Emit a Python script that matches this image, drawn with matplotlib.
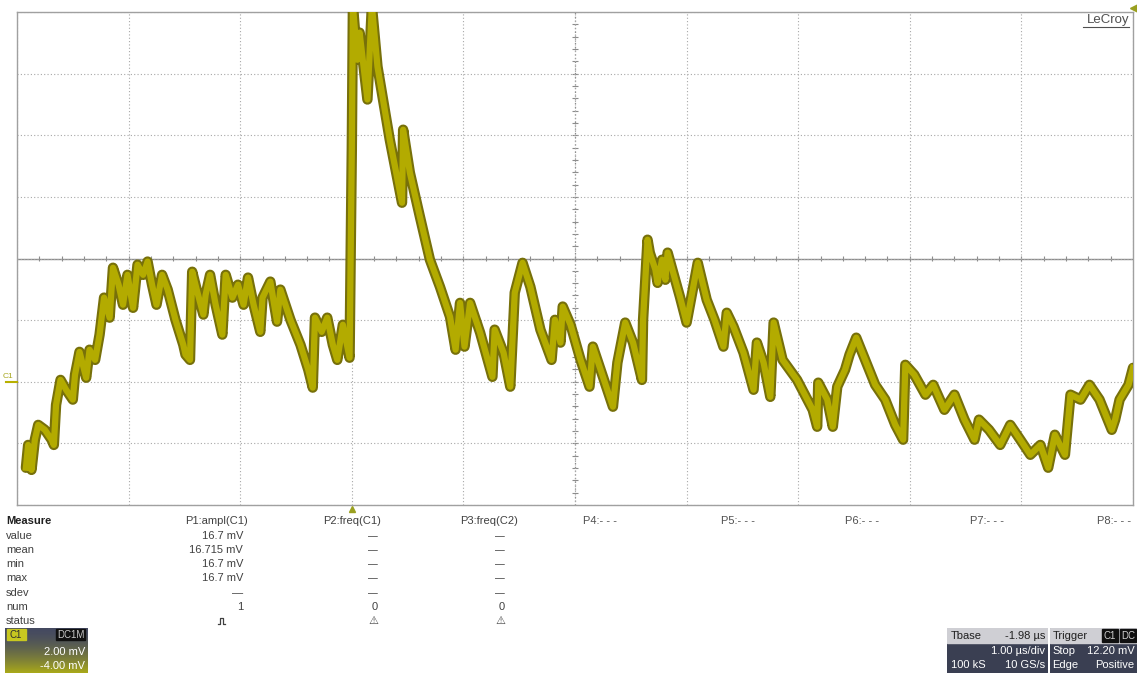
import numpy as np
import matplotlib
matplotlib.use("Agg")
import matplotlib.pyplot as plt
from matplotlib.patches import Rectangle

W, H = 1137, 674

# captured waveform C1 (time in us relative to trigger, level in mV)
t_us = [-2.94, -2.92, -2.89, -2.86, -2.83, -2.77, -2.71, -2.69, -2.67, -2.63,
        -2.58, -2.52, -2.50, -2.46, -2.40, -2.37, -2.32, -2.28, -2.24, -2.19,
        -2.16, -2.11, -2.07, -2.03, -1.98, -1.94, -1.89, -1.85, -1.81, -1.77,
        -1.72, -1.67, -1.60, -1.53, -1.51,
        -1.47, -1.45, -1.41, -1.35, -1.33, -1.29, -1.24, -1.18, -1.15, -1.09,
        -1.04, -0.99, -0.95, -0.90, -0.84, -0.82, -0.75, -0.69, -0.66, -0.57,
        -0.48, -0.41, -0.37, -0.35, -0.29, -0.24, -0.19, -0.15, -0.10, -0.04,
        -0.02, -0.01, 0.03, 0.05, 0.12, 0.16, 0.21, 0.26, 0.32, 0.43,
        0.44, 0.50, 0.59, 0.68, 0.77, 0.86, 0.91, 0.95, 0.99, 1.04,
        1.13, 1.24, 1.26, 1.34, 1.40, 1.44, 1.51, 1.58, 1.67, 1.77,
        1.80, 1.85, 1.87, 1.94, 2.03, 2.11, 2.14, 2.20, 2.29, 2.32,
        2.36, 2.43, 2.50, 2.58, 2.59, 2.63, 2.65, 2.70, 2.72, 2.76,
        2.79, 2.81, 2.86, 2.92, 2.98, 3.04, 3.08, 3.16, 3.23, 3.31,
        3.34, 3.40, 3.49, 3.58, 3.61, 3.67, 3.73, 3.76, 3.84, 3.97,
        4.11, 4.15, 4.16, 4.24, 4.29, 4.33, 4.40, 4.44, 4.50, 4.58,
        4.67, 4.76, 4.85, 4.92, 4.94, 5.02, 5.12, 5.19, 5.29, 5.38,
        5.47, 5.56, 5.60, 5.69, 5.79, 5.88, 5.97, 6.06, 6.15, 6.22,
        6.28, 6.37, 6.42, 6.51, 6.59, 6.68, 6.79, 6.82, 6.86, 6.94, 6.98]
v_mv = [-2.79, -2.05, -2.86, -1.88, -1.40, -1.56, -1.88, -2.05, -0.75, 0.06,
        -0.26, -0.58, 0.23, 0.97, 0.13, 1.04, 0.71, 1.53, 2.73, 2.08,
        3.70, 3.15, 2.50, 3.47, 2.40, 3.80, 3.47, 3.90, 3.15, 2.50,
        3.47, 2.99, 2.01, 1.20, 0.88,
        0.71, 3.57, 2.99, 2.18, 2.82, 3.47, 2.50, 1.53, 3.47, 2.73,
        3.15, 2.50, 3.38, 2.50, 1.62, 2.73, 3.25, 1.95, 2.99, 2.01,
        1.20, 0.39, -0.19, 2.08, 1.62, 2.08, 1.20, 0.71, 1.85, 0.78,
        7.53, 12.20, 10.45, 11.33, 9.16, 12.20, 10.23, 9.16, 7.86, 5.81,
        8.18, 6.79, 5.36, 3.96, 3.08, 2.11, 1.04, 2.56, 1.14, 2.56,
        1.59, 0.16, 1.69, 0.94, -0.16, 2.89, 3.86, 3.08, 1.69, 0.71,
        2.01, 1.27, 2.44, 1.85, 0.71, -0.16, 1.14, 0.49, -0.49, -0.81,
        0.62, 1.92, 1.27, 0.06, 2.01, 4.61, 4.19, 3.64, 3.21, 3.96,
        3.31, 4.19, 3.54, 2.76, 1.92, 3.08, 3.86, 2.66, 2.01, 1.14,
        2.24, 1.79, 0.94, -0.26, 1.27, 0.62, -0.49, 1.92, 0.71, 0.06,
        -0.91, -1.46, -0.03, -0.58, -1.46, -0.16, 0.39, 0.88, 1.43, 0.71,
        -0.10, -0.58, -1.40, -1.88, 0.55, 0.23, -0.42, -0.10, -0.91, -0.42,
        -1.23, -1.88, -1.23, -1.56, -2.05, -1.40, -1.88, -2.37, -2.05, -2.79,
        -1.72, -2.37, -0.42, -0.58, -0.10, -0.58, -1.56, -1.23, -0.58, -0.10, 0.45]

# scope settings
volts_per_div = 2.00
offset_mv = -4.00
time_per_div = 1.00
tbase_us = -1.98

rows = ["Measure", "value", "mean", "min", "max", "sdev", "num", "status"]
p1 = ["P1:ampl(C1)", "16.7 mV", "16.715 mV", "16.7 mV", "16.7 mV", "—", "1", None]
p2 = ["P2:freq(C1)", "—", "—", "—", "—", "—", "0", "⚠"]
p3 = ["P3:freq(C2)", "—", "—", "—", "—", "—", "0", "⚠"]
p_rest = ["P4:- - -", "P5:- - -", "P6:- - -", "P7:- - -", "P8:- - -"]

plt.rcParams["font.family"] = ["Liberation Sans", "DejaVu Sans"]

fig = plt.figure(figsize=(W / 100, H / 100), dpi=100)
fig.patch.set_facecolor("white")


def fx(x):
    return x / W


def fy(y):
    return 1 - y / H


ax = fig.add_axes([fx(17), fy(505), 1116 / W, 493 / H])
t0 = -5 * time_per_div - tbase_us
v0 = -4 * volts_per_div - offset_mv
ax.set_xlim(t0, t0 + 10 * time_per_div)
ax.set_ylim(v0, v0 + 8 * volts_per_div)
ax.set_xticks(t0 + np.arange(11) * time_per_div)
ax.set_yticks(v0 + np.arange(9) * volts_per_div)
ax.tick_params(length=0, labelbottom=False, labelleft=False)
ax.grid(True, color="#a8a8a8", linestyle=(0, (1, 2)), linewidth=0.8)
for s in ax.spines.values():
    s.set_color("#a0a0a0")
    s.set_linewidth(1.0)

# centre graticule with minor ticks
tc = t0 + 5 * time_per_div
vc = v0 + 4 * volts_per_div
ax.axhline(vc, color="#8c8c8c", lw=1.0, zorder=1)
ax.axvline(tc, color="#8c8c8c", lw=0.9, ls=(0, (1, 2)), zorder=1)
mt = t0 + np.arange(1, 50) * time_per_div / 5
ax.vlines(mt, vc - 0.09, vc + 0.09, color="#8c8c8c", lw=0.8, zorder=1)
mv = v0 + np.arange(1, 40) * volts_per_div / 5
ax.hlines(mv, tc - 0.025, tc + 0.025, color="#8c8c8c", lw=0.8, zorder=1)

ax.plot(t_us, v_mv, color="#77700a", lw=7.5, solid_joinstyle="round",
        solid_capstyle="round", zorder=3)
ax.plot(t_us, v_mv, color="#b3ab00", lw=4.5, solid_joinstyle="round", zorder=4)

# markers: ground level, trigger position, trigger level
fig.text(fx(3), fy(376), "C1", fontsize=6, color="#a8a820", va="center")
fig.add_artist(plt.Line2D([fx(6), fx(17)], [fy(382), fy(382)], color="#b8b000", lw=1.5))
fig.add_artist(plt.Line2D([fx(352)], [fy(509)], marker="^", color="#9aa020", ms=5, lw=0))
fig.add_artist(plt.Line2D([fx(1134)], [fy(8)], marker="<", color="#9aa020", ms=6, lw=0))

fig.text(fx(1129), fy(20), "LeCroy", fontsize=9.5, color="#505050", ha="right", va="center")
fig.add_artist(plt.Line2D([fx(1083), fx(1129)], [fy(27), fy(27)], color="#505050", lw=0.8))

# measurement table
row_y = [521, 536, 550, 564, 578, 593, 607, 621]
for i, (name, a, b, c) in enumerate(zip(rows, p1, p2, p3)):
    y = fy(row_y[i])
    head = i == 0
    fig.text(fx(6), y, name, fontsize=8, color="#202020" if head else "#404040",
             fontweight="bold" if head else "normal", va="center")
    if a is not None:
        fig.text(fx(248 if head else 243), y, a, fontsize=8, color="#404040",
                 ha="right", va="center")
    fig.text(fx(381 if head else 378), y, b, fontsize=7 if b == "—" else 8,
             color="#404040", ha="right", va="center")
    fig.text(fx(518 if head else 505), y, c, fontsize=7 if c == "—" else 8,
             color="#404040", ha="right", va="center")

# pulse status icon for P1
px = [218, 220, 220, 223, 223, 225]
py = [624, 624, 618, 618, 624, 624]
fig.add_artist(plt.Line2D([fx(v) for v in px], [fy(v) for v in py], color="#404040", lw=0.9))

for lab, x in zip(p_rest, [583, 721, 845, 970, 1097]):
    fig.text(fx(x), fy(521), lab, fontsize=8, color="#505050", va="center")

# channel descriptor C1
cax = fig.add_axes([fx(5), fy(673), 82 / W, 45 / H])
grad = np.linspace(0, 1, 50)[:, None] * np.ones((1, 80))
top = np.array([0.27, 0.29, 0.38])
bot = np.array([0.66, 0.66, 0.10])
img = top[None, None, :] * (1 - grad[..., None] ** 1.6) + bot[None, None, :] * grad[..., None] ** 1.6
cax.imshow(img, aspect="auto", extent=(0, 1, 0, 1), origin="upper")
cax.set_axis_off()
cax.add_patch(Rectangle((0.03, 0.74), 0.22, 0.23, color="#c8c820", transform=cax.transAxes))
cax.text(0.05, 0.855, "C1", fontsize=7, color="#303030", va="center", transform=cax.transAxes)
cax.add_patch(Rectangle((0.62, 0.74), 0.36, 0.23, color="#101010", transform=cax.transAxes))
cax.text(0.97, 0.855, "DC1M", fontsize=7, color="#c8c8c8", ha="right", va="center",
         transform=cax.transAxes)
cax.text(0.98, 0.47, f"{volts_per_div:.2f} mV", fontsize=8, color="white", ha="right",
         va="center", transform=cax.transAxes)
cax.text(0.98, 0.16, f"{offset_mv:.2f} mV", fontsize=8, color="white", ha="right",
         va="center", transform=cax.transAxes)

# timebase descriptor
tax = fig.add_axes([fx(947), fy(673), 101 / W, 45 / H])
tax.set_xlim(0, 1)
tax.set_ylim(0, 1)
tax.set_axis_off()
tax.add_patch(Rectangle((0, 0), 1, 0.67, color="#3a3f52"))
tax.add_patch(Rectangle((0, 0.67), 1, 0.33, color="#cfcfd4"))
tax.text(0.04, 0.83, "Tbase", fontsize=8, color="#202020", va="center")
tax.text(0.97, 0.83, f"{tbase_us:.2f} µs", fontsize=8, color="#202020", ha="right", va="center")
tax.text(0.97, 0.5, f"{time_per_div:.2f} µs/div", fontsize=8, color="white", ha="right", va="center")
tax.text(0.04, 0.17, "100 kS", fontsize=8, color="white", va="center")
tax.text(0.97, 0.17, "10 GS/s", fontsize=8, color="white", ha="right", va="center")

# trigger descriptor
gax = fig.add_axes([fx(1050), fy(673), 87 / W, 45 / H])
gax.set_xlim(0, 1)
gax.set_ylim(0, 1)
gax.set_axis_off()
gax.add_patch(Rectangle((0, 0), 1, 1, color="#3a3f52"))
gax.add_patch(Rectangle((0, 0.67), 1, 0.33, color="#cfcfd4"))
gax.text(0.03, 0.83, "Trigger", fontsize=8, color="#202020", va="center")
gax.add_patch(Rectangle((0.60, 0.7), 0.18, 0.27, color="#101010"))
gax.text(0.69, 0.83, "C1", fontsize=7, color="#d0d0d0", ha="center", va="center")
gax.add_patch(Rectangle((0.80, 0.7), 0.19, 0.27, color="#101010"))
gax.text(0.895, 0.83, "DC", fontsize=7, color="#d0d0d0", ha="center", va="center")
gax.text(0.03, 0.5, "Stop", fontsize=8, color="white", va="center")
gax.text(0.97, 0.5, "12.20 mV", fontsize=8, color="white", ha="right", va="center")
gax.text(0.03, 0.17, "Edge", fontsize=8, color="white", va="center")
gax.text(0.97, 0.17, "Positive", fontsize=8, color="white", ha="right", va="center")

fig.savefig("out.png", dpi=100, facecolor="white")
